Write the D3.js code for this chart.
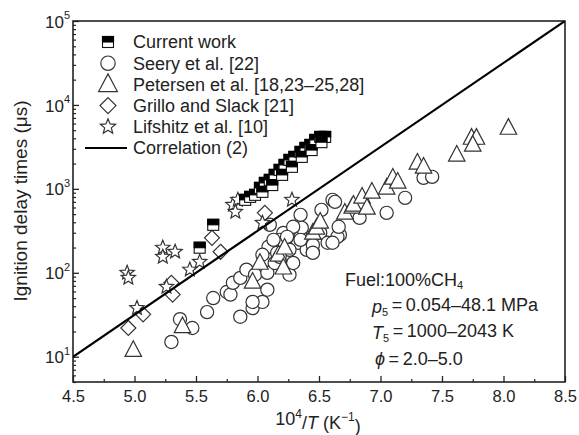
<!DOCTYPE html>
<html><head><meta charset="utf-8">
<script src="https://cdn.jsdelivr.net/npm/d3@7"></script>
<style>
body{margin:0;background:#fff;}
svg{font-family:"Liberation Sans",Arial,sans-serif;}
</style></head>
<body><svg id="c" width="579" height="435"></svg>
<script>
// ---- data (x = 10^4/T, y = ignition delay in µs) ----
const currentX = [5.53,5.64,5.90,5.94,5.98,6.02,6.06,6.10,6.14,6.18,6.22,6.26,6.30,6.35,6.39,6.43,6.47,6.51,6.55,6.04,6.12,6.20,6.28,6.36,6.44,6.52];
const currentY = [199,373,740,803,849,1028,1178,1280,1468,1683,1930,2214,2404,2757,3076,3340,3830,4160,4160,921,1110,1468,1830,2404,2900,3600];

const seeryX = [5.30,5.37,5.47,5.59,5.64,5.75,5.78,5.80,5.86,5.86,5.91,5.96,5.98,6.04,6.08,6.08,6.09,6.04,5.96,6.16,6.14,6.24,6.26,6.29,6.21,6.35,6.33,6.40,6.45,6.51,6.67,6.35,6.36,6.29,6.61,6.52,6.65,6.57,6.45,6.35,6.26,6.45,6.63,6.66,6.61,6.83,7.05,7.20,7.35,7.42,6.18,6.10,6.13,6.18,6.24];
const seeryY = [15,28,22,34,50,59,55,76,87,30,109,38,95,45,63,100,204,164,45,173,131,118,95,131,299,268,228,188,178,299,283,490,343,353,740,562,268,228,215,247,188,173,700,353,228,452,518,782,1352,1390,247,373,247,155,268];

const petersenX = [4.99,5.39,5.96,6.02,6.17,6.21,6.22,6.45,6.48,6.51,6.71,6.77,6.78,6.85,6.89,6.93,7.05,7.10,7.14,7.30,7.35,7.62,7.74,7.78,7.75,8.04];
const petersenY = [12,23,78,131,164,115,199,299,343,405,518,611,645,803,594,921,1028,1352,1212,2040,1830,2540,4045,4045,3340,5320];

const grilloX = [4.95,5.07,5.31,5.30,5.63,5.70,6.06];
const grilloY = [22,32,55,76,261,178,518];

const lifshitzX = [4.94,4.95,5.23,5.23,5.33,5.02,5.26,5.45,5.53,5.80,5.84,5.82,6.04,6.28];
const lifshitzY = [100,87,199,155,178,38,68,109,135,645,740,532,394,740];

const corrX = [4.5, 8.5];
const corrY = [10, 100000];

const xTicks = [4.5,5.0,5.5,6.0,6.5,7.0,7.5,8.0,8.5];
const xMinor = [4.75,5.25,5.75,6.25,6.75,7.25,7.75,8.25];
const yTickExp = [1,2,3,4,5];

const legendLabels = ["Current work","Seery et al. [22]","Petersen et al. [18,23\u201325,28]","Grillo and Slack [21]","Lifshitz et al. [10]","Correlation (2)"];

// ---- layout ----
const svg = d3.select("#c");
const L = 73, R = 565, T = 21, B = 382;
const x = d3.scaleLinear().domain([4.5, 8.5]).range([L, R]);
const y = d3.scaleLog().domain([5, 100000]).range([B, T]);
const ink = "#222";
const FS = 18;

svg.append("defs").append("clipPath").attr("id","clip")
  .append("rect").attr("x",L).attr("y",T).attr("width",R-L).attr("height",B-T);

// axes
const xAx = svg.append("g").attr("transform",`translate(0,${B})`)
  .call(d3.axisBottom(x).tickValues(xTicks).tickSize(-6).tickPadding(8).tickFormat(d3.format(".1f")));
xAx.select(".domain").remove();
xAx.selectAll("line").attr("stroke",ink).attr("stroke-width",1.3);
xAx.selectAll("text").attr("font-size",16.5).attr("fill",ink).attr("font-family","Liberation Sans, Arial, sans-serif");
const xMi = svg.append("g").attr("transform",`translate(0,${B})`)
  .call(d3.axisBottom(x).tickValues(xMinor).tickSize(-3).tickFormat(""));
xMi.select(".domain").remove();
xMi.selectAll("line").attr("stroke",ink).attr("stroke-width",1.2);

const yMajor = yTickExp.map(e => Math.pow(10,e));
const yMinor = [];
for (let e = 0; e <= 4; e++) for (let m = 2; m <= 9; m++) { const v = m*Math.pow(10,e); if (v >= 5 && v < 100000) yMinor.push(v); }
const yAx = svg.append("g").attr("transform",`translate(${L},0)`)
  .call(d3.axisLeft(y).tickValues(yMajor).tickSize(-6).tickPadding(10).tickFormat(""));
yAx.select(".domain").remove();
yAx.selectAll("line").attr("stroke",ink).attr("stroke-width",1.3);
yAx.selectAll(".tick").each(function(d){
  const t = d3.select(this).select("text").attr("font-size",17).attr("fill",ink)
     .attr("text-anchor","end").attr("x",-3).attr("dy","0.36em")
     .attr("font-family","Liberation Sans, Arial, sans-serif");
  t.text(null);
  t.append("tspan").text("10");
  t.append("tspan").attr("font-size",11).attr("dy","-0.75em").text(Math.round(Math.log10(d)));
});
const yMi = svg.append("g").attr("transform",`translate(${L},0)`)
  .call(d3.axisLeft(y).tickValues(yMinor).tickSize(-3).tickFormat(""));
yMi.select(".domain").remove();
yMi.selectAll("line").attr("stroke",ink).attr("stroke-width",1.2);

// frame
svg.append("rect").attr("x",L).attr("y",T).attr("width",R-L).attr("height",B-T)
  .attr("fill","none").attr("stroke",ink).attr("stroke-width",1.6);

// axis titles
svg.append("text").attr("transform",`translate(27,201) rotate(-90)`).attr("text-anchor","middle")
  .attr("font-size",19).attr("fill",ink).text("Ignition delay times (\u03bcs)");
const xt = svg.append("text").attr("x",318).attr("y",425).attr("text-anchor","middle").attr("font-size",18).attr("fill",ink);
xt.append("tspan").text("10");
xt.append("tspan").attr("font-size",12).attr("dy","-0.6em").text("4");
xt.append("tspan").attr("dy","0.6em").text("/");
xt.append("tspan").attr("font-style","italic").text("T");
xt.append("tspan").text(" (K");
xt.append("tspan").attr("font-size",12).attr("dy","-0.6em").text("\u22121");
xt.append("tspan").attr("dy","0.6em").text(")");

// symbol paths
const circlePath = r => `M${r},0A${r},${r} 0 1,1 ${-r},0A${r},${r} 0 1,1 ${r},0Z`;
const triPath = s => `M0,${-s*0.62}L${s*0.55},${s*0.42}L${-s*0.55},${s*0.42}Z`;
const diaPath = s => `M0,${-s}L${s},0L0,${s}L${-s},0Z`;
const starPath = (ro, ri) => { let p=""; for (let i=0;i<10;i++){ const r = i%2? ri: ro; const a = -Math.PI/2 + i*Math.PI/5; p += (i?"L":"M")+(r*Math.cos(a)).toFixed(2)+","+(r*Math.sin(a)).toFixed(2);} return p+"Z"; };

const plot = svg.append("g").attr("clip-path","url(#clip)");
function scatter(xs, ys, path){
  plot.append("g").selectAll("path").data(xs.map((v,i)=>[v,ys[i]])).join("path")
    .attr("d",path).attr("transform",d=>`translate(${x(d[0])},${y(d[1])})`)
    .attr("fill","#fff").attr("stroke","#333").attr("stroke-width",1.2);
}
scatter(seeryX, seeryY, circlePath(6.6));
scatter(petersenX, petersenY, triPath(15));
scatter(grilloX, grilloY, diaPath(7.5));
scatter(lifshitzX, lifshitzY, starPath(7.5,3.3));

function halfSquare(g, cx, cy, s){
  g.append("rect").attr("x",cx-s/2).attr("y",cy-s/2).attr("width",s).attr("height",s).attr("fill","#fff").attr("stroke","#111").attr("stroke-width",1.1);
  g.append("rect").attr("x",cx-s/2).attr("y",cy-s/2).attr("width",s).attr("height",s/2).attr("fill","#000").attr("stroke","#000").attr("stroke-width",1.1);
}
const cw = plot.append("g");
currentX.forEach((v,i)=> halfSquare(cw, x(v), y(currentY[i]), 11));

// correlation line
plot.append("path").datum(corrX.map((v,i)=>[v,corrY[i]]))
  .attr("d", d3.line().x(d=>x(d[0])).y(d=>y(d[1])))
  .attr("stroke","#000").attr("stroke-width",2.2).attr("fill","none");

// legend
const lg = svg.append("g");
const ly0 = 42, ldy = 21.2, lsx = 108, ltx = 133;
legendLabels.forEach((t,i)=>{
  lg.append("text").attr("x",ltx).attr("y",ly0+i*ldy).attr("dy","0.36em").attr("font-size",FS).attr("fill",ink).text(t);
});
halfSquare(lg, lsx, ly0, 11);
const lsym = [circlePath(7.2), triPath(17), diaPath(8), starPath(8,3.5)];
lsym.forEach((p,i)=>{
  lg.append("path").attr("d",p).attr("transform",`translate(${lsx},${ly0+(i+1)*ldy})`)
    .attr("fill","#fff").attr("stroke","#333").attr("stroke-width",1.2);
});
lg.append("line").attr("x1",85).attr("x2",127).attr("y1",ly0+5*ldy).attr("y2",ly0+5*ldy).attr("stroke","#000").attr("stroke-width",2.2);

// annotation
const ann = svg.append("g").attr("font-size",FS).attr("fill",ink);
const a1 = ann.append("text").attr("x",345).attr("y",286);
a1.append("tspan").text("Fuel:100%CH");
a1.append("tspan").attr("font-size",11).attr("dy","0.3em").text("4");
const a2 = ann.append("text").attr("x",372).attr("y",313);
a2.append("tspan").attr("font-style","italic").text("p");
a2.append("tspan").attr("font-size",11).attr("dy","0.3em").text("5");
a2.append("tspan").attr("dy","-0.3em").text("\u2009=\u20090.054\u201348.1 MPa");
const a3 = ann.append("text").attr("x",372).attr("y",339);
a3.append("tspan").attr("font-style","italic").text("T");
a3.append("tspan").attr("font-size",11).attr("dy","0.3em").text("5");
a3.append("tspan").attr("dy","-0.3em").text("\u2009=\u20091000\u20132043 K");
const a4 = ann.append("text").attr("x",375).attr("y",365);
a4.append("tspan").attr("font-style","italic").text("\u03d5");
a4.append("tspan").text("\u2009=\u20092.0\u20135.0");
</script></body></html>
